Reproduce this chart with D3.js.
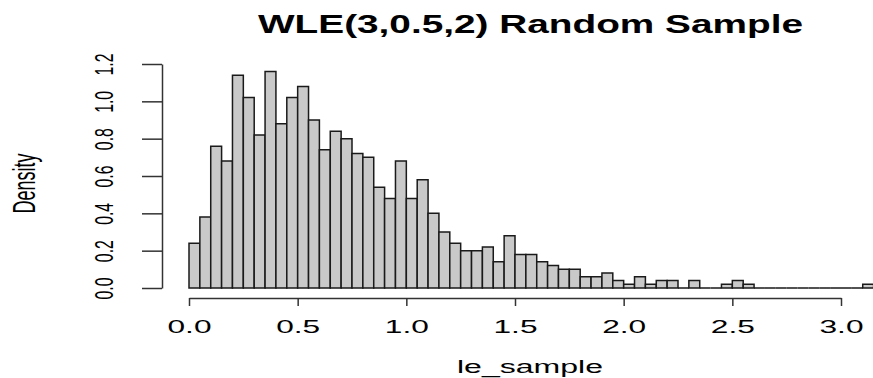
<!DOCTYPE html>
<html>
<head>
<meta charset="utf-8">
<script src="https://cdn.jsdelivr.net/npm/d3@7"></script>
<style>
  html, body { margin: 0; padding: 0; background: #fff; overflow: hidden; }
  text { font-family: "Liberation Sans", Arial, sans-serif; fill: #000; }
</style>
</head>
<body>
<svg id="chart" width="873" height="378"></svg>
<script>
// histogram of le_sample, density per 0.05-wide bin
var binWidth = 0.05;
var density = [
  0.24, 0.38, 0.76, 0.68, 1.14, 1.02, 0.82, 1.16, 0.88, 1.02,
  1.08, 0.90, 0.74, 0.84, 0.80, 0.72, 0.70, 0.54, 0.48, 0.68,
  0.48, 0.58, 0.40, 0.30, 0.24, 0.20, 0.20, 0.22, 0.14, 0.28,
  0.18, 0.18, 0.14, 0.12, 0.10, 0.10, 0.06, 0.06, 0.08, 0.04,
  0.02, 0.06, 0.02, 0.04, 0.04, 0.00, 0.04, 0.00, 0.00, 0.02,
  0.04, 0.02, 0.00, 0.00, 0.00, 0.00, 0.00, 0.00, 0.00, 0.00,
  0.00, 0.00, 0.02
];
var xTicks = [0, 0.5, 1.0, 1.5, 2.0, 2.5, 3.0];
var yTicks = [0, 0.2, 0.4, 0.6, 0.8, 1.0, 1.2];
var titleText = 'WLE(3,0.5,2) Random Sample';
var xLabel = 'le_sample';
var yLabel = 'Density';

var svg = d3.select('#chart');
var sx = 1.7; // the picture is stretched sideways

var x = d3.scaleLinear().domain([0, 3]).range([189, 841]);
var y = d3.scaleLinear().domain([0, 1.2]).range([288, 64]);

var bins = density.map(function (d, i) {
  return { x0: i * binWidth, x1: (i + 1) * binWidth, value: d };
});

// bars (zero bins still leave their outline on the baseline)
svg.append('g')
  .selectAll('path')
  .data(bins)
  .enter()
  .append('path')
  .attr('d', function (d) {
    return 'M' + x(d.x0) + ',' + y(0) +
      'V' + y(d.value) + 'H' + x(d.x1) + 'V' + y(0) + 'Z';
  })
  .attr('fill', '#c9c9c9')
  .attr('stroke', '#1a1a1a')
  .attr('stroke-width', 1.5);

// x axis
var xAxis = d3.axisBottom(x)
  .tickValues(xTicks)
  .tickSize(8)
  .tickSizeOuter(0)
  .tickFormat(d3.format('.1f'));
var gx = svg.append('g')
  .attr('transform', 'translate(0,298)')
  .call(xAxis);
gx.select('.domain').attr('stroke', '#333').attr('stroke-width', 1.5);
gx.selectAll('.tick line').attr('stroke', '#333').attr('stroke-width', 1.5);
gx.selectAll('.tick text')
  .attr('y', 35)
  .attr('dy', 0)
  .style('font-size', '17.5px')
  .attr('textLength', 44)
  .attr('lengthAdjust', 'spacingAndGlyphs')
  .attr('fill', '#000');

// y axis
var yAxis = d3.axisLeft(y)
  .tickValues(yTicks)
  .tickSize(20)
  .tickSizeOuter(0)
  .tickFormat(d3.format('.1f'));
var gy = svg.append('g')
  .attr('transform', 'translate(162,0)')
  .call(yAxis);
gy.select('.domain').attr('stroke', '#333').attr('stroke-width', 1.5);
gy.selectAll('.tick line').attr('stroke', '#333').attr('stroke-width', 1.5);
gy.selectAll('.tick text').remove();
gy.selectAll('.tick')
  .append('g')
  .attr('transform', 'translate(-49,0) scale(' + sx + ',1) rotate(-90)')
  .append('text')
  .attr('text-anchor', 'middle')
  .style('font-size', '15.6px')
  .attr('textLength', 22)
  .attr('lengthAdjust', 'spacingAndGlyphs')
  .text(function (d) { return d3.format('.1f')(d); });

// title
svg.append('text')
  .attr('x', 530.5)
  .attr('y', 33)
  .attr('text-anchor', 'middle')
  .style('font-size', '25px')
  .style('font-weight', 'bold')
  .attr('textLength', 545)
  .attr('lengthAdjust', 'spacingAndGlyphs')
  .text(titleText);

// axis labels
svg.append('text')
  .attr('x', 530)
  .attr('y', 373)
  .attr('text-anchor', 'middle')
  .style('font-size', '17.5px')
  .attr('textLength', 146)
  .attr('lengthAdjust', 'spacingAndGlyphs')
  .text(xLabel);

svg.append('g')
  .attr('transform', 'translate(35,183.5) scale(' + sx + ',1) rotate(-90)')
  .append('text')
  .attr('text-anchor', 'middle')
  .style('font-size', '18px')
  .attr('textLength', 60)
  .attr('lengthAdjust', 'spacingAndGlyphs')
  .text(yLabel);
</script>
</body>
</html>
